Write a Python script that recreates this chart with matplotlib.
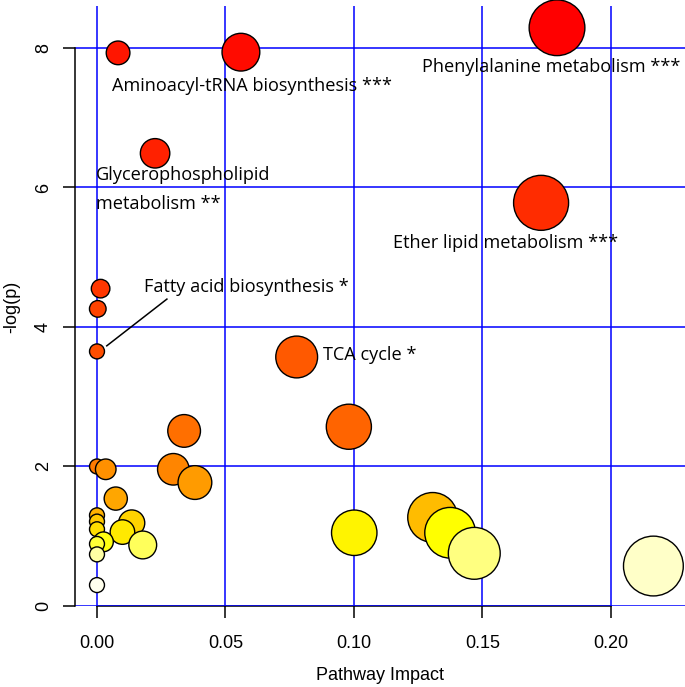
import numpy as np
import matplotlib
matplotlib.use("Agg")
import matplotlib.pyplot as plt
from matplotlib.colors import hsv_to_rgb

# pathway impact and -log(p)
impact = [0.179, 0.056, 0.0082, 0.0226, 0.1728, 0.0014, 0.0003, 0.0, 0.0777, 0.098,
          0.0339, 0.0, 0.0297, 0.0034, 0.0381, 0.0073, 0.0, 0.1306, 0.0, 0.0135,
          0.0, 0.0099, 0.1001, 0.1374, 0.0025, 0.0, 0.0178, 0.1468, 0.0, 0.2165, 0.0]
neglogp = [8.29, 7.94, 7.93, 6.49, 5.78, 4.55, 4.26, 3.65, 3.57, 2.57,
           2.51, 2.00, 1.96, 1.96, 1.77, 1.54, 1.30, 1.27, 1.21, 1.19,
           1.10, 1.06, 1.05, 1.05, 0.92, 0.89, 0.875, 0.755, 0.74, 0.573, 0.30]

# labels: text, x, y (anchor = left, centre)
labels = [
    ("Aminoacyl-tRNA biosynthesis ***", 0.0058, 7.455),
    ("Phenylalanine metabolism ***", 0.1265, 7.727),
    ("Glycerophospholipid", -0.0004, 6.179),
    ("metabolism **", -0.0004, 5.763),
    ("Ether lipid metabolism ***", 0.1152, 5.204),
    ("Fatty acid biosynthesis *", 0.0183, 4.573),
    ("TCA cycle *", 0.0879, 3.599),
]
leader_x = [0.0038, 0.0272]
leader_y = [3.73, 4.40]

xticks = [0.00, 0.05, 0.10, 0.15, 0.20]
yticks = [0, 2, 4, 6, 8]


def heat_colors(n):
    # same as R's heat.colors
    j = n // 4
    i = n - j
    cols = [hsv_to_rgb((h, 1, 1)) for h in np.linspace(0, 1 / 6, i)]
    if j > 0:
        cols += [hsv_to_rgb((1 / 6, s, 1)) for s in np.linspace(1 - 1 / (2 * j), 1 / (2 * j), j)]
    return cols


x = np.array(impact)
y = np.array(neglogp)
order = np.argsort(-y, kind="stable")
x = x[order]
y = y[order]

# circle radius (in x units) from sqrt(impact)
sqx = np.sqrt(x)
maxR = (sqx.max() - sqx.min()) / 40
minR = (sqx.max() - sqx.min()) / 160
radius = minR + (maxR - minR) * (sqx - sqx.min()) / (sqx.max() - sqx.min())

dpi = 100
fig = plt.figure(figsize=(6.85, 6.87), dpi=dpi)
ax = fig.add_axes([75 / 685, 81 / 687, 610 / 685, 600 / 687])
ax.set_xlim(-0.00856, 0.2288)
ax.set_ylim(0, 8.602)

for v in xticks:
    ax.axvline(v, color="#0000FF", lw=1.1, zorder=1)
for h in yticks:
    ax.axhline(h, color="#0000FF", lw=1.1, zorder=1)

# radius in pixels through the x scale
px_per_x = ax.transData.transform((1, 0))[0] - ax.transData.transform((0, 0))[0]
r_px = radius * px_per_x
sizes = (2 * r_px * 72 / dpi) ** 2
ax.scatter(x, y, s=sizes, c=heat_colors(len(y)), edgecolors="black",
           linewidths=1.0, zorder=3, clip_on=False)

for txt, tx, ty in labels:
    ax.text(tx, ty, txt, ha="left", va="center", fontsize=13.1,
            family="Open Sans", color="black", zorder=4)
ax.plot(leader_x, leader_y, color="black", lw=1.1, zorder=4)

for s in ["top", "right"]:
    ax.spines[s].set_visible(False)
ax.spines["left"].set_bounds(0, 8)
ax.spines["bottom"].set_bounds(0, 0.2)
ax.spines["left"].set_linewidth(1.1)
ax.spines["bottom"].set_linewidth(1.1)
ax.spines["bottom"].set_zorder(0.5)
ax.set_xticks(xticks)
ax.set_xticklabels(["0.00", "0.05", "0.10", "0.15", "0.20"])
ax.set_yticks(yticks)
ax.set_yticklabels([str(t) for t in yticks], rotation=90, va="center")
ax.tick_params(axis="both", length=8.6, width=1.1, labelsize=13, direction="out")
ax.tick_params(axis="x", pad=12)
ax.tick_params(axis="y", pad=8)
for lab in ax.get_xticklabels() + ax.get_yticklabels():
    lab.set_family("Liberation Sans")

fig.text(380 / 685, 1 - 676 / 687, "Pathway Impact", ha="center", va="center",
         fontsize=13, family="Liberation Sans")
fig.text(12 / 685, 1 - 307 / 687, "-log(p)", ha="center", va="center",
         rotation=90, fontsize=13, family="Liberation Sans")

fig.savefig("out.png", dpi=dpi)
